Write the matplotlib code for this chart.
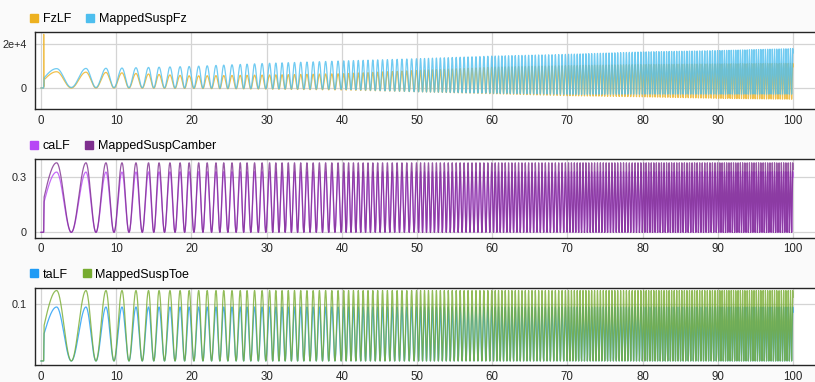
import numpy as np
import matplotlib.pyplot as plt
from matplotlib.lines import Line2D

# sweep progress: time of each peak (cycle count k+0.5),
# dense part estimated from the visible spacing
cycle_t = [0.0, 0.35, 0.4, 2.08, 5.98, 8.64, 10.77, 12.63, 14.3, 15.7, 17.15,
           18.5, 19.7, 20.97, 22.1, 23.27, 24.3, 25.4, 26.5, 27.4, 28.4,
           29.4, 30.4, 40.0, 50.0, 60.0, 70.0, 80.0, 90.0, 100.0]
cycle_n = [0.0, 0.0, 0.25, 0.5, 1.5, 2.5, 3.5, 4.5, 5.5, 6.5, 7.5,
           8.5, 9.5, 10.5, 11.5, 12.5, 13.5, 14.5, 15.5, 16.5, 17.5,
           18.5, 19.5, 31.1, 46.6, 65.6, 88.1, 114.1, 143.6, 176.6]

# envelope (peak / trough level) read at these times
env_t = [0, 2, 10, 20, 30, 40, 50, 60, 70, 80, 90, 100]

fz_hi = [7400, 7400, 7000, 5500, 5900, 6500, 8000, 9500, 10200, 10700, 11000, 11200]
fz_lo = [0, 0, 0, -200, -500, -900, -1700, -2600, -3500, -4000, -4700, -5100]
map_fz_hi = [8800, 8800, 9000, 9800, 11200, 12300, 13300, 14500, 15300, 16400, 17000, 17900]
map_fz_lo = [300, 300, 200, 0, -300, -600, -1700, -2400, -2900, -2800, -2800, -2800]

ca_hi = [0.325, 0.325, 0.325, 0.327, 0.327, 0.327, 0.327, 0.327, 0.327, 0.327, 0.327, 0.327]
map_ca_hi = [0.375, 0.375, 0.375, 0.375, 0.375, 0.375, 0.375, 0.375, 0.375, 0.375, 0.375, 0.375]

ta_hi = [0.095, 0.095, 0.095, 0.095, 0.095, 0.095, 0.095, 0.095, 0.095, 0.095, 0.095, 0.095]
map_ta_hi = [0.124, 0.124, 0.124, 0.124, 0.124, 0.124, 0.124, 0.124, 0.124, 0.124, 0.124, 0.124]

fz_spike_t = 0.36
fz_spike = 24400

t = np.linspace(0, 100, 40001)
n = np.interp(t, cycle_t, cycle_n)
shape = (1 - np.cos(2 * np.pi * n)) / 2
shape[t < 0.35] = 0


def signal(hi, lo):
    h = np.interp(t, env_t, hi)
    l = np.interp(t, env_t, lo)
    y = l + (h - l) * shape
    y[t < 0.35] = 0
    return y


zero = [0] * len(env_t)
fz = signal(fz_hi, fz_lo)
fz[np.argmin(np.abs(t - fz_spike_t))] = fz_spike
map_fz = signal(map_fz_hi, map_fz_lo)
ca = signal(ca_hi, zero)
map_ca = signal(map_ca_hi, zero)
ta = signal(ta_hi, zero)
map_ta = signal(map_ta_hi, zero)

panels = [
    (('FzLF', fz, '#EDB120'), ('MappedSuspFz', map_fz, '#4DBEEE'),
     (-9545, 25450), [0, 20000], ['0', '2e+4']),
    (('caLF', ca, '#B746F5'), ('MappedSuspCamber', map_ca, '#7E2F8E'),
     (-0.029, 0.3955), [0, 0.3], ['0', '0.3']),
    (('taLF', ta, '#1E9BF5'), ('MappedSuspToe', map_ta, '#77AC30'),
     (-0.0076, 0.129), [0.1], ['0.1']),
]

W, H = 815, 382
fig = plt.figure(figsize=(W / 100, H / 100), dpi=100, facecolor='#fafafa')
plt.rcParams['font.family'] = ['Liberation Sans', 'DejaVu Sans']

boxes = [(32, 109), (159, 237.7), (287.7, 365.3)]
for (top, bot), (s1, s2, ylim, yt, ytl) in zip(boxes, panels):
    ax = fig.add_axes([35 / W, 1 - bot / H, 1 - 35 / W, (bot - top) / H])
    ax.set_facecolor('white')
    for name, y, c in (s1, s2):
        ax.plot(t, y, color=c, lw=0.9, alpha=0.8)
    ax.set_xlim(-0.798, 102.93)
    ax.set_ylim(*ylim)
    ax.set_xticks(range(0, 101, 10))
    ax.set_yticks(yt)
    ax.set_yticklabels(ytl)
    ax.grid(True, color='#d4d4d4', lw=0.9)
    ax.set_axisbelow(True)
    ax.tick_params(length=0, labelsize=8.3, colors='#262626')
    ax.tick_params(axis='y', pad=6, labelsize=7.8)
    ax.tick_params(axis='x', pad=4)
    ax.spines['right'].set_visible(False)
    for sp in ('top', 'bottom', 'left'):
        ax.spines[sp].set_color('#262626')
        ax.spines[sp].set_linewidth(1.0)
    handles = [Line2D([], [], ls='none', marker='s', markersize=6,
                      color=c, label=name) for name, y, c in (s1, s2)]
    ax.legend(handles=handles, loc='center left', ncol=2, frameon=False,
              bbox_to_anchor=(-0.0125, 1 + 13 / (bot - top)),
              fontsize=9, handlelength=0.6, handletextpad=0.4,
              columnspacing=1.2, borderaxespad=0)

fig.savefig('out.png', dpi=100, facecolor=fig.get_facecolor())
